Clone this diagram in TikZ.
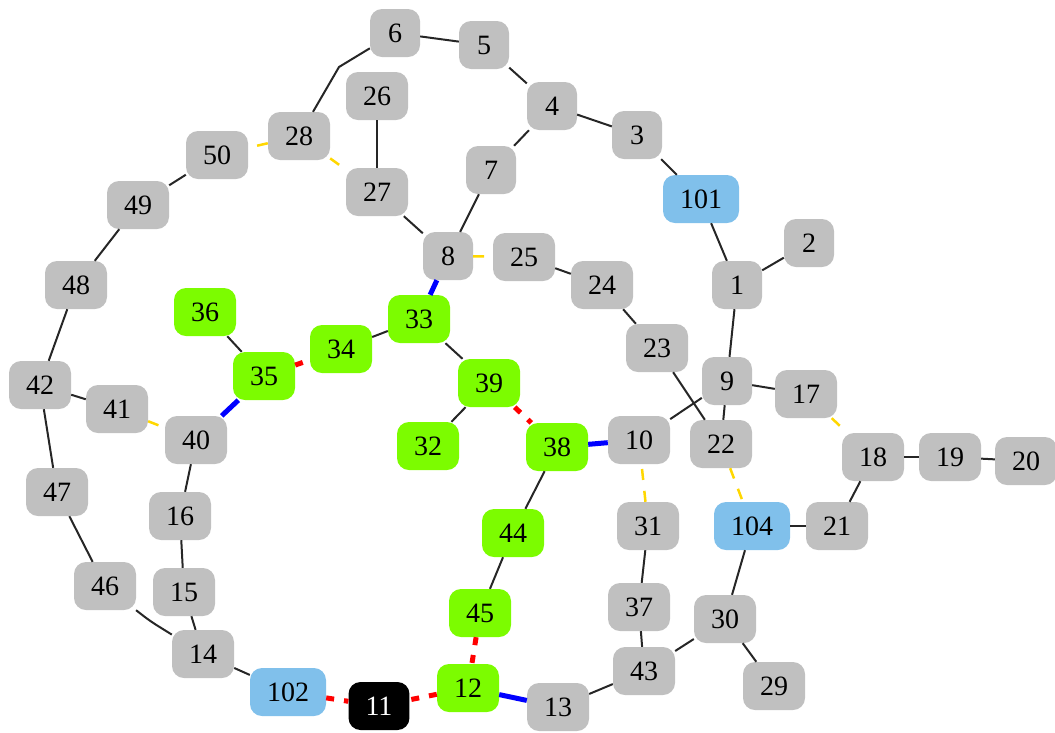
\documentclass[tikz,border=0pt]{standalone}
\usepackage{fontspec}
\setmainfont{Liberation Serif}
\begin{document}
\begin{tikzpicture}[x=1pt,y=-1pt,
  nd/.style={rounded corners=12pt,minimum width=50pt,minimum height=48pt,inner xsep=17pt,inner ysep=0pt,font=\fontsize{28}{30}\selectfont,text=black},
  gn/.style={nd,fill={rgb,255:red,192;green,192;blue,192}},
  gr/.style={nd,fill={rgb,255:red,124;green,252;blue,0}},
  bl/.style={nd,fill={rgb,255:red,128;green,192;blue,235}},
  bk/.style={nd,fill=black,text=white},
  e/.style={draw=black!85,line width=2pt},
  ey/.style={draw={rgb,255:red,255;green,215;blue,0},line width=2.5pt,dash pattern=on 11pt off 11pt},
  er/.style={draw=red,line width=5pt,dash pattern=on 8pt off 10pt},
  eb/.style={draw=blue,line width=5pt}]
\useasboundingbox (0,0) rectangle (1055,732);
% nodes
\node[gn] (n6) at (395,33) {6};
\node[gn] (n5) at (484,45) {5};
\node[gn] (n4) at (552,106) {4};
\node[gn] (n3) at (637,135) {3};
\node[bl] (n101) at (701,199) {101};
\node[gn] (n2) at (809,243) {2};
\node[gn] (n1) at (737,285) {1};
\node[gn] (n26) at (377,96) {26};
\node[gn] (n28) at (299,136) {28};
\node[gn] (n27) at (377,192) {27};
\node[gn] (n7) at (491,170) {7};
\node[gn] (n50) at (217,155) {50};
\node[gn] (n49) at (138,205) {49};
\node[gn] (n48) at (76,285) {48};
\node[gn] (n8) at (448,256) {8};
\node[gn] (n25) at (524,257) {25};
\node[gn] (n24) at (602,285) {24};
\node[gr] (n33) at (419,319) {33};
\node[gr] (n36) at (205,312) {36};
\node[gr] (n34) at (341,349) {34};
\node[gr] (n35) at (264,376) {35};
\node[gn] (n23) at (657,348) {23};
\node[gn] (n9) at (727,381) {9};
\node[gn] (n17) at (806,394) {17};
\node[gn] (n42) at (40,385) {42};
\node[gn] (n41) at (117,409) {41};
\node[gn] (n40) at (196,440) {40};
\node[gr] (n39) at (489,383) {39};
\node[gr] (n32) at (428,446) {32};
\node[gr] (n38) at (557,447) {38};
\node[gn] (n10) at (639,440) {10};
\node[gn] (n22) at (721,444) {22};
\node[gn] (n18) at (873,457) {18};
\node[gn] (n19) at (950,457) {19};
\node[gn] (n20) at (1026,461) {20};
\node[gn] (n47) at (57,492) {47};
\node[gn] (n16) at (180,516) {16};
\node[gn] (n31) at (648,526) {31};
\node[bl] (n104) at (752,526) {104};
\node[gn] (n21) at (837,526) {21};
\node[gr] (n44) at (513,533) {44};
\node[gn] (n46) at (105,586) {46};
\node[gn] (n15) at (184,592) {15};
\node[gn] (n37) at (639,607) {37};
\node[gr] (n45) at (480,613) {45};
\node[gn] (n30) at (725,619) {30};
\node[gn] (n14) at (203,654) {14};
\node[gn] (n43) at (644,671) {43};
\node[gn] (n29) at (774,686) {29};
\node[bl] (n102) at (288,692) {102};
\node[bk] (n11) at (379,706) {11};
\node[gr] (n12) at (468,688) {12};
\node[gn] (n13) at (558,707) {13};
\coordinate (b1) at (339,67);
\coordinate (b2) at (150,621);
% edges
\draw[e] (n6) -- (n5);
\draw[e] (n5) -- (n4);
\draw[e] (n4) -- (n3);
\draw[e] (n3) -- (n101);
\draw[e] (n101) -- (n1);
\draw[e] (n1) -- (n2);
\draw[e] (n1) -- (n9);
\draw[e] (n4) -- (n7);
\draw[e] (n7) -- (n8);
\draw[e] (n28) -- (b1) -- (n6);
\draw[ey] (n28) -- (n50);
\draw[ey] (n28) -- (n27);
\draw[e] (n26) -- (n27);
\draw[e] (n27) -- (n8);
\draw[ey] (n8) -- (n25);
\draw[e] (n25) -- (n24);
\draw[e] (n24) -- (n23);
\draw[e] (n23) -- (n22);
\draw[eb] (n8) -- (n33);
\draw[e] (n33) -- (n34);
\draw[er] (n35) -- (n34);
\draw[e] (n36) -- (n35);
\draw[eb] (n35) -- (n40);
\draw[e] (n33) -- (n39);
\draw[e] (n39) -- (n32);
\draw[er] (n39) -- (n38);
\draw[eb] (n38) -- (n10);
\draw[e] (n38) -- (n44);
\draw[e] (n44) -- (n45);
\draw[er] (n45) -- (n12);
\draw[er] (n12) -- (n11);
\draw[er] (n102) -- (n11);
\draw[eb] (n12) -- (n13);
\draw[e] (n13) -- (n43);
\draw[e] (n43) -- (n37);
\draw[e] (n37) -- (n31);
\draw[ey] (n31) -- (n10);
\draw[e] (n43) -- (n30);
\draw[e] (n30) -- (n104);
\draw[e] (n30) -- (n29);
\draw[e] (n104) -- (n21);
\draw[e] (n21) -- (n18);
\draw[e] (n18) -- (n19);
\draw[e] (n19) -- (n20);
\draw[ey] (n17) -- (n18);
\draw[e] (n9) -- (n17);
\draw[e] (n9) -- (n22);
\draw[e] (n9) -- (n10);
\draw[ey] (n22) -- (n104);
\draw[e] (n50) -- (n49);
\draw[e] (n49) -- (n48);
\draw[e] (n48) -- (n42);
\draw[e] (n42) -- (n41);
\draw[ey] (n41) -- (n40);
\draw[e] (n42) -- (n47);
\draw[e] (n47) -- (n46);
\draw[e,rounded corners=8pt] (n46) -- (b2) -- (n14);
\draw[e] (n40) -- (n16);
\draw[e] (n16) -- (n15);
\draw[e] (n15) -- (n14);
\draw[e] (n14) -- (n102);
\end{tikzpicture}
\end{document}
